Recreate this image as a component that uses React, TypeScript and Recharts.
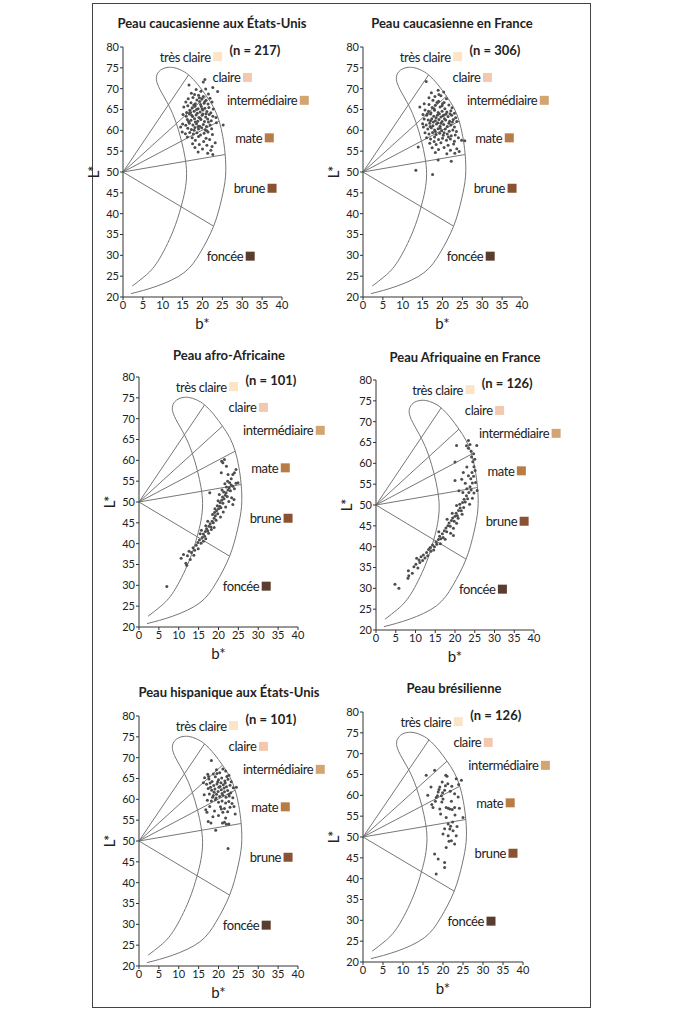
import React from "react";
import { ScatterChart, Scatter, XAxis, YAxis, ReferenceLine, ReferenceDot } from "recharts";

type Pt = [number, number];

// ─── axes ──────────────────────────────────────────────────────
const X_TICKS = [0, 5, 10, 15, 20, 25, 30, 35, 40];
const Y_TICKS = [20, 25, 30, 35, 40, 45, 50, 55, 60, 65, 70, 75, 80];

// ─── skin colour classes ───────────────────────────────────────
const CATEGORIES = ["très claire", "claire", "intermédiaire", "mate", "brune", "foncée"];
const CATEGORY_COLORS = ["#fde4c6", "#f2c9ae", "#d2a572", "#b97c45", "#8a5232", "#5a3d2e"];

// crescent outline (b*, L*), bottom-right round the top and back down
const BOUNDARY: Pt[] = [
  [2.0, 20.8], [8.5, 22.6], [15.3, 25.8], [19.4, 30.6], [22.8, 37], [24.8, 43.5],
  [25.8, 49], [25.7, 54.2], [25.1, 58.5], [24.2, 62.2], [22.8, 65.5], [21, 68.2],
  [18.9, 70.9], [16.5, 73.3], [14.5, 74.5], [12.5, 75.1], [10.3, 74.9], [8.8, 73.8],
  [8.4, 72.2], [9.3, 69.8], [11.5, 66], [13.3, 62], [14.7, 57.5], [15.6, 53.5],
  [16, 49.6], [15.6, 45.6], [14.6, 41.6], [12.5, 35.6], [8.8, 28.6], [5.5, 25], [2.3, 22.6],
];
// radial ITA lines start at (0, 50) and end on the outline
const RADIAL_ORIGIN: Pt = [0, 50];
const RADIAL_ENDS: Pt[] = [[16.5, 73.3], [21, 68.2], [24.2, 62.2], [25.7, 54.2], [22.8, 37]];

// ─── samples ───────────────────────────────────────────────────
const US_CAUCASIAN: Pt[] = [
  [20.2, 71.6], [20.6, 72.2], [16.6, 70.9], [22.6, 70.3], [23.8, 69.3],
  [18.4, 69.8], [19.6, 69.4], [20.8, 69.9], [17.2, 68.9], [21.5, 68.7], [19.0, 68.4], [20.2, 68.1],
  [16.4, 67.6], [17.6, 67.9], [18.6, 67.3], [19.8, 67.6], [20.9, 67.2], [21.9, 67.7], [15.8, 66.8], [17.1, 66.6],
  [18.2, 66.4], [19.3, 66.9], [20.4, 66.5], [21.4, 66.3], [22.4, 66.8],
  [15.3, 65.6], [16.3, 65.9], [17.4, 65.4], [18.1, 65.8], [18.9, 65.2], [19.7, 65.7], [20.6, 65.3], [21.6, 65.5],
  [22.7, 65.1], [16.8, 64.8], [17.9, 64.6], [19.4, 64.4], [20.1, 64.9], [21.1, 64.5], [22.1, 64.2],
  [15.1, 63.8], [15.9, 63.4], [16.7, 63.9], [17.5, 63.3], [18.4, 63.7], [19.1, 63.1], [19.9, 63.6], [20.8, 63.2],
  [21.7, 63.8], [22.6, 63.4], [23.4, 63.1], [16.2, 62.6], [17.1, 62.4], [18.0, 62.8], [18.8, 62.2], [19.6, 62.6],
  [20.5, 62.1], [21.3, 62.7], [22.2, 62.3],
  [15.0, 61.5], [15.8, 61.2], [16.7, 61.7], [17.6, 61.3], [18.5, 61.6], [19.3, 61.0], [20.2, 61.4], [21.0, 60.9],
  [21.9, 61.3], [23.5, 61.8], [25.2, 61.3], [16.3, 60.5], [17.2, 60.2], [18.1, 60.7], [19.0, 60.3], [19.8, 60.6],
  [20.7, 60.1], [22.3, 60.4], [14.5, 60.8],
  [14.9, 59.6], [15.7, 59.2], [16.8, 59.5], [17.7, 59.1], [18.6, 59.4], [19.5, 58.9], [20.4, 59.3], [21.4, 59.6],
  [22.5, 59.0], [16.2, 58.4], [17.4, 58.2], [19.0, 58.5], [20.9, 58.1],
  [18.2, 57.6], [20.3, 57.3], [21.8, 57.8], [19.2, 56.6], [21.1, 56.4], [22.4, 56.1], [18.1, 55.9], [20.0, 55.5],
  [22.1, 55.2], [18.9, 54.8], [21.3, 54.5], [22.6, 54.2], [17.5, 56.8], [23.2, 57.0],
  [17.8, 66.1], [18.7, 64.1], [19.5, 66.2], [20.9, 64.0], [17.3, 63.6], [18.2, 62.0], [19.4, 62.9], [20.1, 63.9],
  [18.9, 60.9], [17.9, 60.0], [16.5, 62.1], [21.5, 62.0], [19.9, 65.1], [18.5, 65.0], [17.0, 64.3], [20.6, 66.9],
  [19.2, 67.8], [18.0, 68.6], [21.1, 59.9], [16.0, 64.3],
];

const FR_CAUCASIAN: Pt[] = [
  [15.9, 71.7], [18.9, 69.6], [17.2, 69.0], [20.3, 69.2], [19.6, 68.3], [18.1, 68.1], [16.6, 67.8], [21.0, 67.6],
  [17.6, 67.2], [19.0, 67.0], [20.4, 66.7], [15.4, 66.4], [16.6, 66.2], [18.2, 66.0], [21.6, 66.1], [22.4, 65.4],
  [14.3, 65.6], [17.4, 65.5], [19.4, 65.6], [20.6, 65.2], [15.6, 64.9], [16.5, 64.6], [18.0, 64.8], [18.9, 64.3],
  [19.9, 64.6], [21.1, 64.4], [22.1, 64.7], [23.0, 64.1], [15.1, 63.8], [16.0, 63.6], [17.0, 63.9], [17.8, 63.4],
  [18.7, 63.6], [19.6, 63.2], [20.4, 63.7], [21.4, 63.3], [22.3, 63.6], [23.3, 63.0], [15.4, 62.7], [16.4, 62.5],
  [17.3, 62.8], [18.2, 62.3], [19.1, 62.6], [19.9, 62.1], [20.8, 62.5], [21.8, 62.2], [22.7, 62.6], [23.6, 62.1],
  [15.0, 61.6], [15.9, 61.3], [16.8, 61.7], [17.6, 61.1], [18.5, 61.5], [19.4, 61.0], [20.3, 61.4], [21.2, 60.9],
  [22.1, 61.3], [23.0, 60.8], [15.2, 60.8], [16.3, 60.3], [17.2, 60.6], [18.0, 60.1], [18.9, 60.4], [19.8, 59.9],
  [20.7, 60.3], [21.7, 59.8], [22.6, 60.1], [23.5, 59.7], [15.6, 59.4], [16.6, 59.1], [17.5, 59.5], [18.4, 59.0],
  [19.3, 59.3], [20.2, 58.8], [21.2, 59.1], [22.2, 58.7], [23.2, 58.9], [16.0, 58.2], [17.0, 57.9], [18.0, 58.4],
  [19.0, 57.8], [20.0, 58.1], [21.0, 57.6], [22.0, 57.9], [23.0, 57.4], [24.0, 58.2], [24.8, 57.6], [25.6, 57.5],
  [16.8, 56.9], [18.4, 56.6], [19.6, 57.0], [21.4, 56.4], [22.8, 56.7], [17.4, 55.8], [19.0, 55.4], [20.4, 55.9],
  [22.0, 55.2], [23.6, 55.6], [18.2, 54.7], [21.1, 54.4], [23.1, 54.5], [24.2, 54.9], [13.9, 56.0], [18.9, 52.9],
  [13.3, 50.4], [17.5, 49.4], [22.2, 52.6],
  [17.9, 65.1], [18.6, 66.7], [19.9, 65.9], [17.1, 64.2], [18.4, 63.0], [19.2, 64.0], [20.1, 63.5], [20.9, 63.9],
  [17.7, 62.0], [18.8, 61.8], [19.6, 61.7], [20.5, 62.8], [16.9, 60.9], [18.2, 59.7], [19.4, 60.5], [20.4, 59.4],
  [21.6, 61.7], [17.0, 62.3], [16.2, 64.0], [21.9, 64.0], [22.5, 62.0], [20.0, 66.4], [19.1, 68.6], [21.5, 58.4],
  [17.9, 57.3],
];

const AFRO_AFRICAN: Pt[] = [
  [7.0, 29.7], [10.6, 36.5], [11.8, 35.3], [12.2, 37.1], [12.9, 36.2], [13.2, 37.9], [13.6, 39.0], [14.0, 38.4],
  [14.4, 39.6], [14.8, 40.3], [15.2, 40.9], [15.6, 40.1], [15.9, 41.5], [16.2, 42.3], [16.5, 41.8], [16.7, 42.9],
  [17.0, 43.6], [17.3, 43.1], [17.6, 44.2], [17.9, 44.8], [18.1, 44.0], [18.4, 45.4], [18.7, 45.0], [18.9, 46.1],
  [19.2, 46.7], [19.0, 47.5], [19.5, 47.9], [19.8, 47.2], [20.0, 48.4], [19.7, 49.1], [20.3, 49.0], [20.6, 48.6],
  [20.4, 49.9], [20.8, 50.4], [21.1, 49.7], [21.0, 51.2], [21.4, 50.8], [21.7, 51.6], [21.3, 52.4], [21.9, 52.2],
  [22.2, 51.3], [22.4, 52.9], [22.0, 53.6], [22.7, 53.4], [23.0, 52.7], [23.2, 54.1], [22.8, 54.6], [23.6, 53.8],
  [24.0, 53.2], [24.4, 54.5], [24.9, 54.6], [23.6, 49.4], [23.9, 50.6], [23.3, 51.0], [22.6, 50.1], [21.8, 48.8],
  [21.2, 47.6], [20.5, 46.4], [17.8, 52.2], [20.7, 57.0], [22.4, 56.6], [23.6, 56.6], [24.4, 57.8], [23.2, 55.6],
  [21.1, 59.4], [21.5, 60.2], [20.8, 59.8], [22.0, 58.6], [24.0, 57.0],
  [13.8, 37.2], [12.6, 38.2], [14.9, 38.8], [15.4, 42.4], [16.8, 41.2], [16.2, 40.6], [17.5, 42.5], [18.2, 43.4],
  [18.9, 43.9], [19.4, 45.6], [17.3, 45.4], [18.5, 47.0], [19.1, 48.4], [19.9, 50.3], [20.2, 51.8], [20.9, 52.9],
  [21.6, 54.4], [22.3, 55.0], [16.8, 44.3], [15.7, 43.2], [11.2, 37.4], [12.0, 34.8],
];

const AFR_FRANCE: Pt[] = [
  [4.8, 31.0], [5.8, 30.0], [8.2, 34.2], [8.1, 32.4], [8.3, 33.0], [9.6, 35.2], [10.1, 35.8], [10.6, 34.9],
  [10.9, 36.8], [11.4, 37.6], [11.1, 36.2], [12.0, 38.0], [12.4, 37.3], [12.8, 38.6], [13.3, 39.3], [13.7, 39.8],
  [13.9, 38.9], [14.3, 40.4], [14.8, 40.0], [15.2, 41.1], [15.4, 40.6], [15.8, 41.7], [16.1, 42.5], [16.4, 41.9],
  [16.8, 43.1], [17.0, 42.2], [17.3, 43.8], [17.7, 44.5], [17.9, 43.6], [18.2, 45.0], [18.5, 45.7], [18.8, 44.9],
  [19.1, 46.3], [19.4, 46.9], [19.8, 46.1], [20.0, 47.3], [20.3, 48.0], [20.6, 47.4], [20.9, 48.7], [21.3, 49.3],
  [21.6, 48.6], [21.2, 50.2], [21.9, 50.6], [22.3, 51.4], [22.6, 50.7], [22.9, 52.2], [23.2, 51.5], [23.5, 53.0],
  [23.0, 53.9], [23.8, 54.4], [24.1, 53.6], [24.4, 55.3], [24.0, 56.3], [24.7, 56.9], [24.3, 57.8], [25.1, 58.3],
  [24.8, 59.2], [24.5, 60.4], [24.2, 61.5], [24.7, 62.3], [24.1, 62.9], [25.0, 61.0], [23.4, 63.6], [23.8, 64.5],
  [23.4, 65.5], [25.5, 64.3], [20.4, 64.3], [22.9, 64.2], [20.0, 60.3], [23.0, 59.1], [22.1, 57.8], [21.7, 56.2],
  [20.0, 55.9], [22.6, 55.2], [23.4, 57.0], [21.0, 53.4], [22.0, 53.0], [25.2, 55.4], [25.6, 53.5],
  [9.2, 33.6], [10.3, 37.2], [11.8, 36.7], [13.1, 37.8], [14.6, 39.2], [16.3, 40.7], [15.9, 43.6], [17.5, 41.8],
  [18.9, 43.2], [19.6, 44.4], [20.4, 45.6], [18.0, 46.6], [19.3, 48.0], [20.8, 46.8], [21.8, 47.8], [22.2, 49.4],
  [20.4, 49.9], [23.7, 50.2], [24.4, 51.6], [24.8, 52.9], [19.6, 42.7],
];

const HISPANIC_US: Pt[] = [
  [18.2, 69.3], [19.5, 67.1], [21.1, 67.3], [17.3, 66.0], [18.7, 66.1], [20.3, 66.4], [21.8, 66.8], [22.6, 65.8],
  [16.5, 65.2], [17.6, 64.9], [18.4, 64.3], [19.2, 65.4], [20.0, 64.7], [20.8, 65.1], [21.6, 64.4], [22.4, 64.8],
  [23.2, 64.2], [16.2, 64.0], [17.0, 63.6], [17.9, 63.9], [18.8, 63.3], [19.6, 63.7], [20.4, 63.1], [21.2, 63.5],
  [22.0, 63.0], [22.9, 63.4], [23.7, 62.8], [24.5, 62.9], [17.4, 62.6], [18.3, 62.2], [19.1, 62.5], [19.9, 61.9],
  [20.7, 62.3], [21.5, 61.8], [22.3, 62.1], [23.1, 61.6], [16.4, 61.1], [17.7, 61.3], [18.7, 60.9], [19.5, 61.2],
  [20.3, 60.7], [21.1, 61.0], [21.9, 60.5], [22.7, 60.8], [23.6, 60.4], [17.2, 59.8], [18.2, 59.6], [19.2, 59.9],
  [20.0, 59.3], [20.9, 59.6], [21.8, 59.1], [22.6, 59.5], [23.4, 59.0], [17.8, 58.3], [20.5, 58.2], [21.5, 57.8],
  [22.9, 58.1], [16.8, 57.5], [19.0, 57.2], [21.1, 56.9], [22.3, 57.0], [17.1, 56.9], [18.6, 55.8], [20.0, 56.1],
  [21.8, 55.5], [19.3, 52.6], [21.5, 54.5], [21.0, 54.3], [22.0, 54.0], [22.6, 54.1], [18.1, 54.3], [17.4, 54.7],
  [22.4, 48.2], [24.2, 56.5], [23.9, 58.3],
  [19.8, 64.2], [20.6, 64.0], [18.9, 61.7], [21.4, 62.7], [20.1, 62.9], [19.4, 60.3], [18.0, 62.9], [21.7, 63.9],
  [20.9, 61.4], [22.6, 61.2], [19.6, 66.2], [17.5, 65.5], [22.1, 65.5], [18.5, 60.5], [20.7, 57.7],
];

const BRAZIL: Pt[] = [
  [15.8, 64.8], [17.9, 66.0], [20.7, 64.8], [21.2, 62.8], [23.3, 64.0], [24.6, 63.6], [23.9, 62.6], [19.2, 62.0],
  [18.8, 60.8], [19.6, 59.9], [20.4, 61.2], [18.3, 59.5], [20.0, 59.1], [22.9, 60.4], [23.8, 59.6], [19.0, 61.4],
  [19.9, 60.6], [18.6, 59.9], [20.6, 62.3], [21.8, 61.0], [22.2, 62.2], [17.5, 57.1], [19.2, 56.7], [20.8, 57.1],
  [21.7, 56.7], [22.9, 57.1], [21.3, 56.9], [22.3, 56.6], [25.0, 54.7], [20.8, 54.7], [21.3, 53.1], [21.7, 51.9],
  [22.5, 51.5], [20.0, 50.7], [21.3, 50.3], [23.3, 50.3], [22.1, 49.1], [22.9, 48.3], [20.8, 47.5], [17.9, 45.9],
  [18.8, 44.7], [20.4, 43.9], [20.4, 42.7], [18.3, 41.1], [22.4, 53.6], [21.9, 52.6], [20.4, 52.0], [23.0, 55.3],
  [19.7, 58.4], [18.1, 58.6], [17.2, 57.8], [24.1, 56.9], [22.1, 58.6], [19.8, 63.2], [21.0, 64.6], [17.0, 62.0],
  [16.2, 60.0], [23.5, 52.5], [21.5, 49.0], [19.4, 55.5],
];

// ─── layout ────────────────────────────────────────────────────
const PLOT_H = 250;
const Y_W = 46;
const X_H = 40;
const TOP = 12;
const RIGHT = 80;
const FONT = "Lato, 'Noto Sans', sans-serif";
const INK = "#222";
const LINE = "#777";

// swatch centres in (b*, L*) units, shared by all six panels
const SWATCH_POS: Pt[] = [[23.8, 77.7], [31.3, 72.7], [45.6, 67.2], [36.8, 58.2], [37.5, 46.1], [32, 29.8]];
const N_POS: Pt = [33.2, 79.3];

const PANELS = [
  { title: "Peau caucasienne aux États-Unis", n: "(n = 217)", pts: US_CAUCASIAN, left: 123, top: 47, plotW: 159, titleX: 212, titleY: 23 },
  { title: "Peau caucasienne en France", n: "(n = 306)", pts: FR_CAUCASIAN, left: 363, top: 47, plotW: 159, titleX: 452, titleY: 23 },
  { title: "Peau afro-Africaine", n: "(n = 101)", pts: AFRO_AFRICAN, left: 139, top: 377, plotW: 159, titleX: 229, titleY: 355 },
  { title: "Peau Afriquaine en France", n: "(n = 126)", pts: AFR_FRANCE, left: 376, top: 380, plotW: 158, titleX: 465, titleY: 357 },
  { title: "Peau hispanique aux États-Unis", n: "(n = 101)", pts: HISPANIC_US, left: 139, top: 716, plotW: 159, titleX: 229, titleY: 692 },
  { title: "Peau brésilienne", n: "(n = 126)", pts: BRAZIL, left: 363, top: 712, plotW: 160, titleX: 454, titleY: 688 },
];

const toRows = (pts: Pt[]) => pts.map(([b, L]) => ({ b, L }));
const BOUNDARY_ROWS = toRows(BOUNDARY);

const noDot = () => <g />;
const dot = (p: any) => <circle cx={p.cx} cy={p.cy} r={1.5} fill="#4d4d4d" />;

// "L*" sits about 30px left of the axis line
const yLabel = (p: any) => {
  const vb = p.viewBox;
  const x = vb.x + vb.width - 30;
  const y = vb.y + vb.height / 2;
  return (
    <text x={x} y={y} transform={`rotate(-90 ${x} ${y})`} textAnchor="middle" dominantBaseline="central" fontSize={15} fill={INK} fontFamily={FONT}>
      L*
    </text>
  );
};

const xLabel = (p: any) => {
  const vb = p.viewBox;
  return (
    <text x={vb.x + vb.width / 2} y={vb.y + 26} textAnchor="middle" dominantBaseline="central" fontSize={15} fill={INK} fontFamily={FONT}>
      b*
    </text>
  );
};

function swatchShape(label: string, color: string) {
  return (p: any) => (
    <g>
      <text
        x={p.cx - 7}
        y={p.cy}
        textAnchor="end"
        dominantBaseline="central"
        fontSize={13}
        letterSpacing={-0.4}
        fill={INK}
        fontFamily={FONT}
      >
        {label}
      </text>
      <rect x={p.cx - 4.5} y={p.cy - 4.5} width={9} height={9} fill={color} />
    </g>
  );
}

function nShape(text: string) {
  return (p: any) => (
    <text x={p.cx} y={p.cy} textAnchor="middle" dominantBaseline="central" fontSize={13} fontWeight={700} fill={INK} fontFamily={FONT}>
      {text}
    </text>
  );
}

function Panel({ cfg }: { cfg: (typeof PANELS)[number] }) {
  const width = Y_W + cfg.plotW + RIGHT;
  const height = TOP + PLOT_H + X_H;
  const tick = { fontSize: 11, fill: INK, fontFamily: FONT };
  return (
    <>
      <div
        style={{
          position: "absolute",
          left: cfg.titleX - 150,
          width: 300,
          top: cfg.titleY - 9,
          lineHeight: "18px",
          textAlign: "center",
          fontWeight: 700,
          fontSize: 13,
          color: INK,
        }}
      >
        {cfg.title}
      </div>
      <div style={{ position: "absolute", left: cfg.left - Y_W, top: cfg.top - TOP }}>
        <ScatterChart width={width} height={height} margin={{ top: TOP, right: RIGHT, bottom: 0, left: 0 }}>
          <XAxis
            type="number"
            dataKey="b"
            domain={[0, 40]}
            ticks={X_TICKS}
            interval={0}
            height={X_H}
            tick={tick}
            tickSize={3}
            tickMargin={1}
            stroke="#333"
            label={xLabel}
          />
          <YAxis
            type="number"
            dataKey="L"
            domain={[20, 80]}
            ticks={Y_TICKS}
            interval={0}
            width={Y_W}
            tick={tick}
            tickSize={3}
            tickMargin={1}
            stroke="#333"
            label={yLabel}
          />
          {RADIAL_ENDS.map(([b, L], i) => (
            <ReferenceLine
              key={i}
              segment={[
                { x: RADIAL_ORIGIN[0], y: RADIAL_ORIGIN[1] },
                { x: b, y: L },
              ]}
              stroke={LINE}
              strokeWidth={1}
              ifOverflow="visible"
            />
          ))}
          <Scatter
            data={BOUNDARY_ROWS}
            line={{ stroke: LINE, strokeWidth: 1 }}
            lineJointType="natural"
            shape={noDot}
            isAnimationActive={false}
          />
          <Scatter data={toRows(cfg.pts)} shape={dot} isAnimationActive={false} />
          {CATEGORIES.map((c, i) => (
            <ReferenceDot
              key={c}
              x={SWATCH_POS[i][0]}
              y={SWATCH_POS[i][1]}
              r={4}
              ifOverflow="visible"
              shape={swatchShape(c, CATEGORY_COLORS[i])}
            />
          ))}
          <ReferenceDot x={N_POS[0]} y={N_POS[1]} r={4} ifOverflow="visible" shape={nShape(cfg.n)} />
        </ScatterChart>
      </div>
    </>
  );
}

export default function App() {
  return (
    <div style={{ position: "relative", width: 680, height: 1011, background: "#fff", fontFamily: FONT, overflow: "hidden" }}>
      <style>{"body{margin:0}"}</style>
      <div
        style={{
          position: "absolute",
          left: 92,
          top: 3,
          width: 499,
          height: 1005,
          border: "1px solid #444",
          boxSizing: "border-box",
        }}
      />
      {PANELS.map((p) => (
        <Panel key={p.title} cfg={p} />
      ))}
    </div>
  );
}
